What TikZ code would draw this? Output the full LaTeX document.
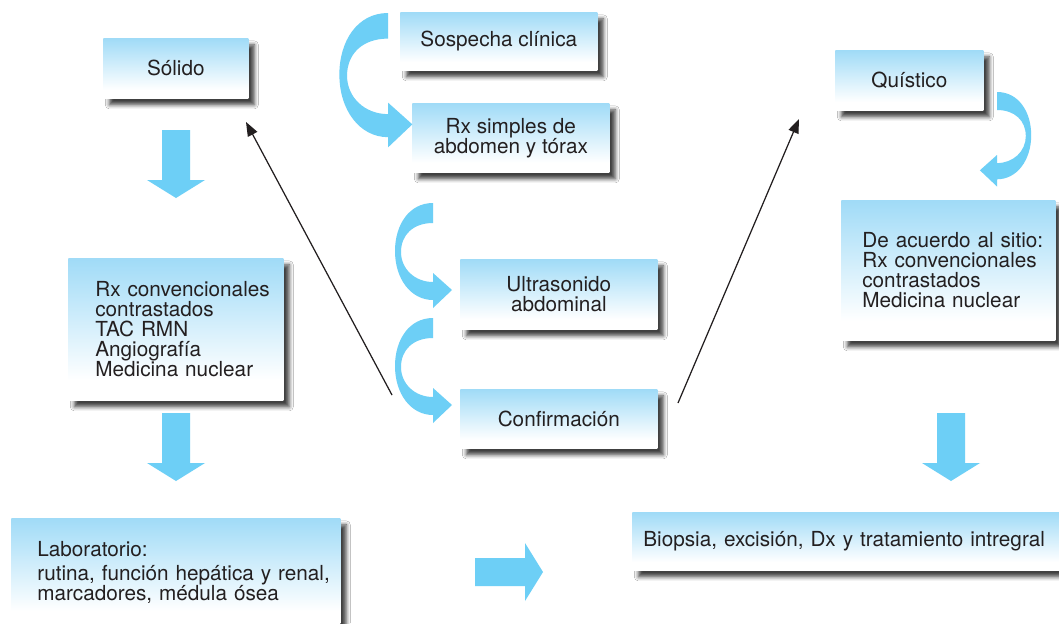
\documentclass[tikz,border=0pt]{standalone}
\usepackage{fontspec}
\setmainfont{TeX Gyre Heros}
\usetikzlibrary{arrows.meta,shadows.blur}

\definecolor{celeste}{RGB}{160,219,247}
\definecolor{flechaazul}{RGB}{109,207,246}
\definecolor{texto}{RGB}{35,31,32}

% degradado de las cajas: celeste arriba, blanco abajo
\pgfdeclareverticalshading{degradado}{100bp}{color(0bp)=(white); color(32bp)=(white); color(75bp)=(celeste); color(100bp)=(celeste)}

\tikzset{
  caja/.style={rectangle, shade, shading=degradado, anchor=north west, inner sep=0pt,
    align=center, text=texto, font=\fontsize{11.8}{11.4}\selectfont,
    blur shadow={shadow xshift=0.12cm, shadow yshift=-0.13cm, shadow blur radius=0.08cm, shadow opacity=75}},
  lista/.style 2 args={align=left, text width=#1, execute at begin node={\leftskip=#2}},
  flecha/.style={fill=flechaazul},
  linea/.style={-{Triangle[length=8pt,width=6pt]}, line width=0.7pt, draw=texto, fill=texto},
  curva/.pic={\fill[flecha] (0,0) .. controls (-24,0) and (-38,22) .. (-38,48) .. controls (-38,76) and (-22,97) .. (0,97) -- (0,105) -- (19,87) -- (0,70) -- (0,79) .. controls (-18,79) and (-32,66) .. (-32,49) .. controls (-32,32) and (-20,20) .. (0,20) -- cycle;},
  bloque/.pic={\fill[flecha] (-14,0) -- (-14,50) -- (-29,50) -- (0,68) -- (29,50) -- (14,50) -- (14,0) -- cycle;}
}

\begin{document}
\begin{tikzpicture}[x=0.02cm,y=-0.02cm]
  \useasboundingbox (0,0) rectangle (1059,623);
  \fill[white] (0,0) rectangle (1059,623);

  % columna izquierda
  \node[caja, minimum width=2.9cm, minimum height=1.2cm] (solido) at (103,38) {Sólido};
  \node[caja, lista={4.3cm}{0.54cm}, minimum height=2.84cm] (estudios) at (68,258)
    {Rx convencionales\\contrastados\\TAC RMN\\Angiografía\\Medicina nuclear};
  \node[caja, lista={6.58cm}{0.52cm}, minimum height=2.16cm] (laboratorio) at (11,518)
    {Laboratorio:\\[0.08cm]rutina, función hepática y renal,\\marcadores, médula ósea};

  % columna central
  \node[caja, minimum width=3.94cm, minimum height=1.16cm] (sospecha) at (400,12) {Sospecha clínica};
  \node[caja, minimum width=3.94cm, minimum height=1.38cm] (rxsimples) at (412,103) {Rx simples de\\abdomen y tórax};
  \node[caja, minimum width=3.94cm, minimum height=1.4cm] (ultrasonido) at (460,259) {Ultrasonido\\abdominal};
  \node[caja, minimum width=3.94cm, minimum height=1.18cm] (confirmacion) at (460,389) {Confirmación};

  % columna derecha
  \node[caja, minimum width=2.96cm, minimum height=1.2cm] (quistico) at (835,50) {Quístico};
  \node[caja, lista={4.28cm}{0.42cm}, minimum height=2.8cm] (sitio) at (841,200)
    {De acuerdo al sitio:\\Rx convencionales\\contrastados\\Medicina nuclear};
  \node[caja, lista={8.9cm}{0.22cm}, minimum height=1.16cm] (biopsia) at (632,512)
    {Biopsia, excisión, Dx y tratamiento intregral};

  % flechas curvas
  \pic[scale=1.28] at (388,13) {curva};
  \pic at (433,203) {curva};
  \pic at (433,318) {curva};
  \pic[xscale=-0.9, yscale=0.9] at (997,92) {curva};

  % flechas gruesas
  \pic at (176,130) {bloque};
  \pic at (176,413) {bloque};
  \pic at (951,413) {bloque};
  \pic[rotate=90] at (475,572) {bloque};

  % flechas finas
  \coordinate (desdeizq) at (392,395);
  \coordinate (haciasolido) at (246,122);
  \coordinate (desdeder) at (678,403);
  \coordinate (haciaquistico) at (799,119);
  \draw[linea] (desdeizq) -- (haciasolido);
  \draw[linea] (desdeder) -- (haciaquistico);
\end{tikzpicture}
\end{document}
